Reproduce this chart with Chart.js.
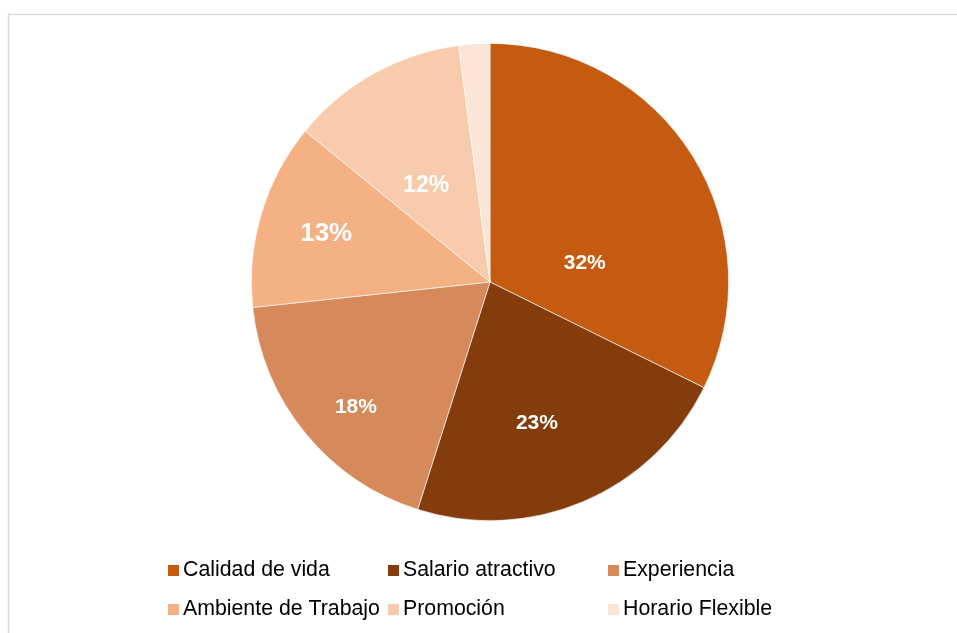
<!DOCTYPE html>
<html><head><meta charset="utf-8">
<script src="https://cdn.jsdelivr.net/npm/chart.js@4/dist/chart.umd.min.js"></script>
<style>html,body{margin:0;padding:0;background:#fff;overflow:hidden}</style>
</head><body>
<canvas id="c" width="957" height="633"></canvas>
<script>
// ---- data ----
const categories = ['Calidad de vida', 'Salario atractivo', 'Experiencia', 'Ambiente de Trabajo', 'Promoción', 'Horario Flexible'];
const shares = [32.3, 22.6, 18.4, 12.6, 12.0, 2.1];
const showValueLabel = [true, true, true, true, true, false];

// ---- styles ----
const sliceColors = ['#C55A11', '#843C0C', '#D6895A', '#F4B183', '#F8CBAD', '#FBE5D6'];
const FONT = "'Liberation Sans', Arial, Helvetica, sans-serif";
// per-slice label placement (radial fraction of radius, angle shift in degrees, font px)
const labelRadial = [0.405, 0.622, 0.770, 0.715, 0.483, 0.6];
const labelShift = [20.4, 4.6, -3.9, -0.3, -4.5, 0];
const labelSize = [21, 21, 21, 26, 23, 18];

const framePlugin = {
  id: 'frame',
  beforeDraw(chart) {
    const ctx = chart.ctx;
    ctx.save();
    ctx.strokeStyle = '#D9D9D9';
    ctx.lineWidth = 1.5;
    ctx.beginPath();
    ctx.moveTo(8.5, chart.height + 5);
    ctx.lineTo(8.5, 14.5);
    ctx.lineTo(chart.width + 5, 14.5);
    ctx.stroke();
    ctx.restore();
  }
};

const valueLabelPlugin = {
  id: 'valueLabels',
  afterDatasetsDraw(chart) {
    const ctx = chart.ctx;
    const meta = chart.getDatasetMeta(0);
    const total = shares.reduce((a, b) => a + b, 0);
    ctx.save();
    ctx.fillStyle = '#FFFFFF';
    ctx.textAlign = 'center';
    ctx.textBaseline = 'middle';
    meta.data.forEach((arc, i) => {
      if (!showValueLabel[i]) return;
      const p = arc.getProps(['x', 'y', 'startAngle', 'endAngle', 'outerRadius'], true);
      const mid = (p.startAngle + p.endAngle) / 2 + labelShift[i] * Math.PI / 180;
      const r = p.outerRadius * labelRadial[i];
      const x = p.x + Math.cos(mid) * r;
      const y = p.y + Math.sin(mid) * r;
      ctx.font = 'bold ' + labelSize[i] + 'px ' + FONT;
      ctx.fillText(Math.round(shares[i] / total * 100) + '%', x, y);
    });
    ctx.restore();
  }
};

const gridLegendPlugin = {
  id: 'gridLegend',
  afterDraw(chart) {
    const ctx = chart.ctx;
    const left = 168, colW = 220, rowY = [570, 609], perRow = 3, box = 11;
    ctx.save();
    ctx.font = '21.3px ' + FONT;
    ctx.textBaseline = 'middle';
    ctx.textAlign = 'left';
    categories.forEach((name, i) => {
      const col = i % perRow, row = Math.floor(i / perRow);
      const x = left + col * colW;
      const y = rowY[row];
      ctx.fillStyle = sliceColors[i];
      ctx.fillRect(x, y - box / 2 + 0.5, box, box);
      ctx.fillStyle = '#000000';
      ctx.fillText(name, x + box + 4, y);
    });
    ctx.restore();
  }
};

new Chart(document.getElementById('c'), {
  type: 'pie',
  data: {
    labels: categories,
    datasets: [{
      data: shares,
      backgroundColor: sliceColors,
      borderColor: 'rgba(255,255,255,0.8)',
      borderWidth: 0.75
    }]
  },
  options: {
    responsive: false,
    devicePixelRatio: 1,
    animation: false,
    rotation: 0,
    layout: { padding: { top: 43, bottom: 112, left: 23, right: 0 } },
    plugins: {
      legend: { display: false },
      tooltip: { enabled: false },
      title: { display: false }
    }
  },
  plugins: [framePlugin, valueLabelPlugin, gridLegendPlugin]
});
</script>
</body></html>
